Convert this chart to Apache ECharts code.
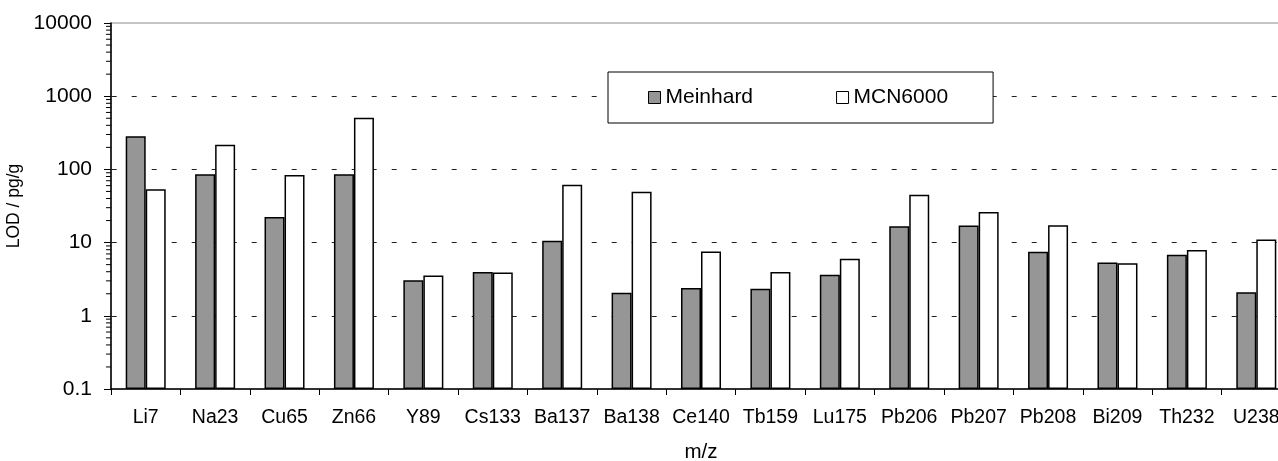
<!DOCTYPE html>
<html>
<head>
<meta charset="utf-8">
<title>LOD by isotope</title>
<script src="https://cdn.jsdelivr.net/npm/echarts@6/dist/echarts.min.js"></script>
<style>
  html, body { margin: 0; padding: 0; background: #ffffff; }
  #chart { width: 1278px; height: 461px; }
</style>
</head>
<body>
<div id="chart"></div>
<script>
// Isotopes (m/z) on the category axis
const categories = ['Li7', 'Na23', 'Cu65', 'Zn66', 'Y89', 'Cs133', 'Ba137', 'Ba138', 'Ce140',
  'Tb159', 'Lu175', 'Pb206', 'Pb207', 'Pb208', 'Bi209', 'Th232', 'U238'];

// Limits of detection, pg/g
const meinhard = [283, 86, 22.4, 86, 3.07, 3.98, 10.6, 2.06, 2.39, 2.34, 3.63, 16.7, 17.1, 7.47, 5.33, 6.8, 2.10];
const mcn6000 = [53.5, 217, 84, 507, 3.55, 3.90, 61.8, 49.6, 7.54, 3.98, 6.0, 45.2, 26.2, 17.3, 5.23, 7.95, 11.0];

// Log axis: decades carrying a label, and the in-between minor tick factors
const yTickLabels = ['0.1', '1', '10', '100', '1000', '10000'];
const minorDecades = [0.1, 1, 10, 100, 1000];
const minorFactors = [2, 3, 4, 5, 6, 7, 8, 9];

const minorTickValues = [];
minorDecades.forEach(d => minorFactors.forEach(f => minorTickValues.push([0, d * f])));

const FONT = "'Liberation Sans', Arial, Helvetica, sans-serif";

const chart = echarts.init(document.getElementById('chart'), null, { renderer: 'canvas' });

chart.setOption({
  animation: false,
  backgroundColor: '#ffffff',
  textStyle: { fontFamily: FONT, color: '#000' },
  grid: {
    left: 111, top: 23, bottom: 72, right: -13,
    containLabel: false,
    outerBoundsMode: 'none',
    show: true, borderColor: '#8c8c8c', borderWidth: 1.2, backgroundColor: 'transparent'
  },
  legend: {
    left: 608, top: 72,
    padding: [15, 45, 15, 40],
    itemGap: 83,
    itemWidth: 12, itemHeight: 12,
    backgroundColor: '#ffffff',
    borderColor: '#000', borderWidth: 1,
    textStyle: { fontSize: 21, fontFamily: FONT, color: '#000' },
    data: [
      { name: 'Meinhard', icon: 'rect', itemStyle: { color: '#969696', borderColor: '#000', borderWidth: 1 } },
      { name: 'MCN6000', icon: 'rect', itemStyle: { color: '#ffffff', borderColor: '#000', borderWidth: 1 } }
    ]
  },
  xAxis: {
    type: 'category',
    data: categories,
    name: 'm/z',
    nameLocation: 'middle',
    nameGap: 53,
    nameTextStyle: { fontSize: 20.5, fontFamily: FONT, color: '#000' },
    axisLine: { lineStyle: { color: '#000', width: 1.5 } },
    axisTick: { show: true, length: 6, lineStyle: { color: '#000', width: 1 } },
    axisLabel: { fontSize: 19.5, fontFamily: FONT, color: '#000', margin: 19, interval: 0 },
    splitLine: { show: false }
  },
  yAxis: {
    type: 'log',
    logBase: 10,
    min: 0.1,
    max: 10000,
    startValue: 0.1,
    name: 'LOD / pg/g',
    nameLocation: 'middle',
    nameGap: 76,
    nameTextStyle: { fontSize: 17.5, fontFamily: FONT, color: '#000' },
    axisLine: { show: true, lineStyle: { color: '#000', width: 1.5 } },
    axisTick: { show: true, length: 7, lineStyle: { color: '#000', width: 1 } },
    axisLabel: {
      fontSize: 21, fontFamily: FONT, color: '#000', margin: 19,
      formatter: v => {
        const idx = Math.round(Math.log10(v)) + 1;
        return yTickLabels[idx] !== undefined ? yTickLabels[idx] : '';
      }
    },
    splitLine: {
      show: true,
      showMinLine: false,
      showMaxLine: false,
      lineStyle: { color: '#222', width: 1, type: [5, 15], dashOffset: -0.7 }
    }
  },
  series: [
    {
      name: 'Meinhard',
      type: 'bar',
      data: meinhard,
      barWidth: 20,
      barGap: '0%',
      itemStyle: { color: '#969696', borderColor: '#000', borderWidth: 1.5 },
      emphasis: { disabled: true }
    },
    {
      name: 'MCN6000',
      type: 'bar',
      data: mcn6000,
      barWidth: 20,
      barGap: '0%',
      itemStyle: { color: '#ffffff', borderColor: '#000', borderWidth: 1.5 },
      emphasis: { disabled: true }
    },
    {
      // Minor ticks of the log axis, placed through the axis scale
      name: 'minorTicks',
      type: 'custom',
      silent: true,
      clip: false,
      z: 5,
      data: minorTickValues,
      encode: { x: 0, y: 1 },
      renderItem: (params, api) => {
        const y = api.coord([0, api.value(1)])[1];
        const x = params.coordSys.x;
        return {
          type: 'line',
          shape: { x1: x - 5, y1: y, x2: x, y2: y },
          style: { stroke: '#000', lineWidth: 1 }
        };
      }
    }
  ]
});
</script>
</body>
</html>
